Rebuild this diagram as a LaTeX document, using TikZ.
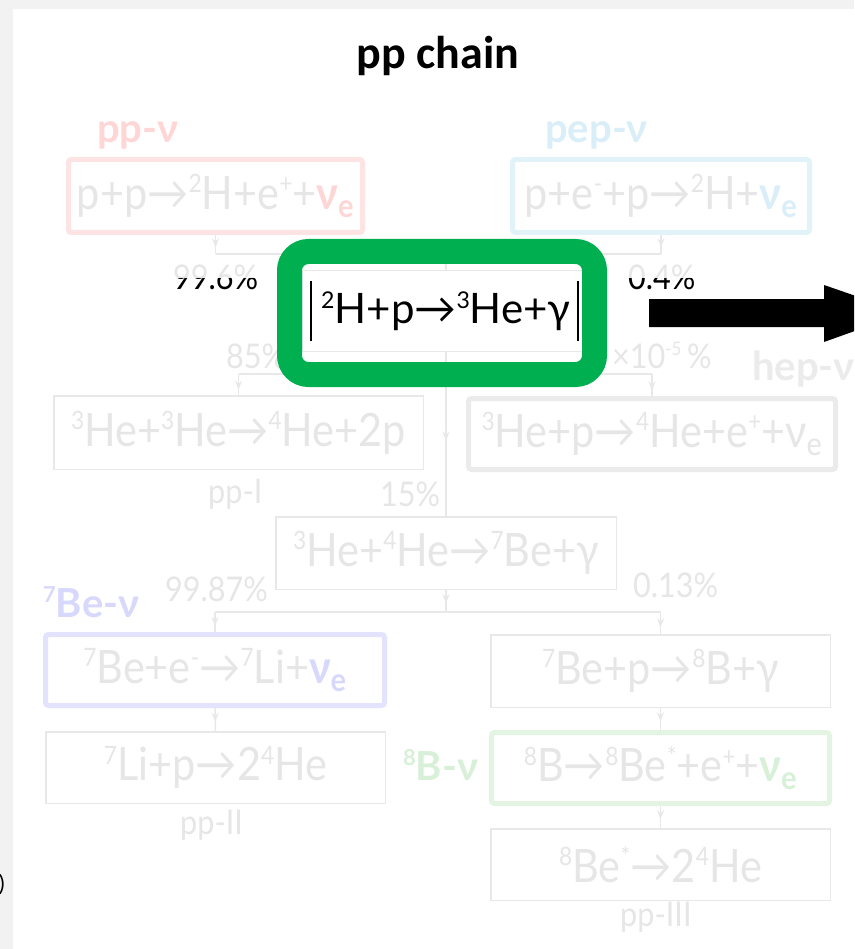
\documentclass[tikz,border=0pt]{standalone}
\usepackage{fontspec}
\setmainfont{Lato}
\newfontfamily\titlefont{Carlito}
\newfontfamily\narrowfont{Lato}[FakeStretch=0.9]
\usetikzlibrary{arrows.meta,decorations.markings}

\definecolor{pagegray}{HTML}{F2F2F2}
\definecolor{fadetext}{HTML}{E6E6E6}
\definecolor{fadeline}{HTML}{E8E8E8}
\definecolor{ppred}{HTML}{FDE3E3}
\definecolor{ppredtext}{HTML}{FFD6D6}
\definecolor{pepblue}{HTML}{E2F2F9}
\definecolor{pepbluetext}{HTML}{D9EEF8}
\definecolor{bepurple}{HTML}{E3E3FD}
\definecolor{bepurpletext}{HTML}{D8D8FC}
\definecolor{bgreen}{HTML}{E3F4E3}
\definecolor{bgreentext}{HTML}{D8F0D8}
\definecolor{hepgray}{HTML}{EBEBEB}
\definecolor{hilite}{HTML}{00B050}

% reaction arrow, isotope superscript, electron neutrino
\newcommand{\ra}{→}
\newcommand{\iso}[1]{\raisebox{0.36em}{\scalebox{0.55}{#1}}}
\newcommand{\nue}[1]{\textcolor{#1}{\bfseries ν\textsubscript{e}}}

\tikzset{
  rxn/.style={draw=fadeline, line width=1.5pt, text=fadetext,
    font=\narrowfont\fontsize{46}{50}\selectfont, inner sep=0pt},
  chanbox/.style={rxn, line width=5pt, rounded corners=3pt},
  flow/.style={color=fadeline, line width=1.5pt},
  midtip/.style={decoration={markings,
      mark=at position #1 with {\arrow{Stealth[length=9pt,width=7pt]}}},
    postaction={decorate}},
  pct/.style={text=fadetext, font=\narrowfont\fontsize{34}{36}\selectfont,
    inner sep=0pt, anchor=base west},
  chanlabel/.style={font=\bfseries\fontsize{40}{44}\selectfont,
    inner sep=0pt, anchor=base west},
}

\begin{document}
\begin{tikzpicture}[x=1pt,y=-1pt]
\useasboundingbox (0,0) rectangle (854,949);
\clip (0,0) rectangle (854,949);
\fill[pagegray] (0,0) rectangle (854,949);
\fill[white] (13,9) rectangle (854,949);
\node[anchor=east, font=\fontsize{22}{24}\selectfont, inner sep=0pt] (edgemark) at (5,885) {)};

% title
\node[font=\titlefont\bfseries\fontsize{46}{50}\selectfont, anchor=base] (title) at (438,69) {pp chain};

% neutrino channel labels
\node[chanlabel, text=ppredtext] (lpp) at (97,143) {pp-ν};
\node[chanlabel, text=pepbluetext] (lpep) at (545,143) {pep-ν};
\node[chanlabel, text=hepgray] (lhep) at (752,380) {hep-ν};
\node[chanlabel, text=bepurpletext] (lbe) at (43,617) {\iso{7}Be-ν};
\node[chanlabel, text=bgreentext] (lb) at (403,780) {\iso{8}B-ν};

% reactions
\node[chanbox, draw=ppred, minimum width=294pt, minimum height=73pt] (pp) at (215.5,196)
  {p+p\ra\iso{2}H+e\iso{+}+\nue{ppredtext}};
\node[chanbox, draw=pepblue, minimum width=297pt, minimum height=73pt] (pep) at (661,196)
  {p+e\iso{-}+p\ra\iso{2}H+\nue{pepbluetext}};
\node[rxn, text=black, font=\fontsize{42}{46}\selectfont, minimum width=288pt, minimum height=81pt] (dh) at (446,311)
  {\iso{2}H+p\ra\iso{3}He+γ};
\node[rxn, minimum width=369.5pt, minimum height=73.5pt] (ppone) at (238.5,432.5)
  {\iso{3}He+\iso{3}He\ra\iso{4}He+2p};
\node[chanbox, draw=hepgray, minimum width=367pt, minimum height=71pt] (hep) at (652,434)
  {\iso{3}He+p\ra\iso{4}He+e\iso{+}+ν\textsubscript{e}};
\node[rxn, minimum width=340.5pt, minimum height=72.5pt] (bes) at (446,553)
  {\iso{3}He+\iso{4}He\ra\iso{7}Be+γ};
\node[chanbox, draw=bepurple, minimum width=339pt, minimum height=71pt] (bee) at (215,670)
  {\iso{7}Be+e\iso{-}\ra\iso{7}Li+\nue{bepurpletext}};
\node[rxn, minimum width=339.5pt, minimum height=72.5pt] (bep) at (660.5,671)
  {\iso{7}Be+p\ra\iso{8}B+γ};
\node[rxn, minimum width=339.5pt, minimum height=71.5pt] (li) at (215.5,767.5)
  {\iso{7}Li+p\ra2\iso{4}He};
\node[chanbox, draw=bgreen, minimum width=338pt, minimum height=71pt] (bb) at (660.5,768)
  {\iso{8}B\ra\iso{8}Be\iso{*}+e\iso{+}+\nue{bgreentext}};
\node[rxn, minimum width=339.5pt, minimum height=71.5pt] (bet) at (660.5,864.5)
  {\iso{8}Be\iso{*}\ra2\iso{4}He};

% branching ratios and chain names
\node[pct] (r996) at (173,290) {99.6\%};
\node[pct] (r04) at (628,290) {0.4\%};
\node[pct] (r85) at (226,368) {85\%};
\node[pct] (rhep) at (612,368) {×10\iso{-5}\,\%};
\node[pct] (nppone) at (208,503) {pp-I};
\node[pct] (r15) at (380,506) {15\%};
\node[pct] (r9987) at (165,601) {99.87\%};
\node[pct] (r013) at (633,597) {0.13\%};
\node[pct] (npptwo) at (180,834) {pp-II};
\node[pct] (nppthree) at (620,926) {pp-III};

% connectors
\coordinate (jtop) at (446,254);
\coordinate (jmid) at (446,374);
\coordinate (jlow) at (446,612);
\draw[flow, midtip=0.65] (pp.south) -- (pp.south |- jtop);
\draw[flow, midtip=0.65] (pep.south) -- (pep.south |- jtop);
\draw[flow] (pp.south |- jtop) -- (pep.south |- jtop);
\draw[flow, midtip=0.8] (jtop) -- (dh.north);
\draw[flow, midtip=0.54] (dh.south) -- (bes.north);
\draw[flow] (ppone.north |- jmid) -- (hep.north |- jmid);
\draw[flow, midtip=0.75] (ppone.north |- jmid) -- (ppone.north);
\draw[flow, midtip=0.75] (hep.north |- jmid) -- (hep.north);
\draw[flow, midtip=0.6] (bes.south) -- (jlow);
\draw[flow] (bee.north |- jlow) -- (bep.north |- jlow);
\draw[flow, midtip=0.7] (bee.north |- jlow) -- (bee.north);
\draw[flow, midtip=0.7] (bep.north |- jlow) -- (bep.north);
\draw[flow, midtip=0.6] (bee.south) -- (li.north);
\draw[flow, midtip=0.6] (bep.south) -- (bb.north);
\draw[flow, midtip=0.6] (bb.south) -- (bet.north);

% highlight frame
\draw[hilite, line width=25pt, rounded corners=19pt] (289.5,251.5) rectangle (594.5,374.5);
\draw[black, line width=1.5pt] ([xshift=-135pt,yshift=-30pt]dh.center) -- ([xshift=-135pt,yshift=30pt]dh.center);
\draw[black, line width=1.5pt] ([xshift=132pt,yshift=-30pt]dh.center) -- ([xshift=132pt,yshift=30pt]dh.center);

% lower halves of the two ratios in black
\begin{scope}
  \clip (150,279) rectangle (720,300);
  \node[pct, text=black] (r996b) at (r996.base west) {99.6\%};
  \node[pct, text=black] (r04b) at (r04.base west) {0.4\%};
\end{scope}

% big output arrow
\fill[black] (649,299) -- (824,299) -- (824,285) -- (905,313) -- (824,342) -- (824,327) -- (649,327) -- cycle;
\end{tikzpicture}
\end{document}
